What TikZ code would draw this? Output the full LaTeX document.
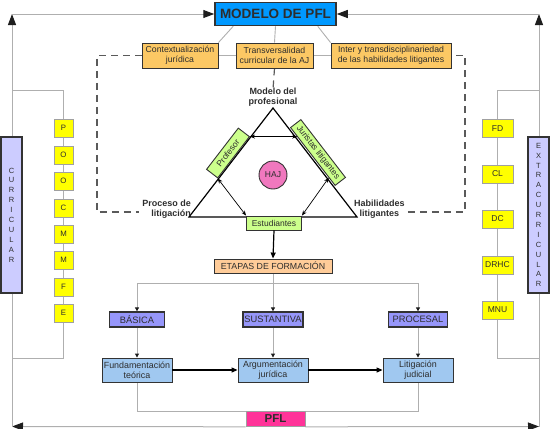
\documentclass[tikz,border=0pt]{standalone}
\usepackage{fontspec}
\setmainfont{Liberation Sans}
\usetikzlibrary{arrows.meta,calc,backgrounds}
\definecolor{bdr}{RGB}{51,51,51}
\definecolor{txt}{RGB}{45,45,45}
\definecolor{blueC}{RGB}{0,153,255}
\definecolor{orangeC}{RGB}{252,200,100}
\definecolor{greenC}{RGB}{204,255,140}
\definecolor{pinkC}{RGB}{240,120,190}
\definecolor{etapC}{RGB}{255,204,153}
\definecolor{purpleC}{RGB}{150,150,250}
\definecolor{lblueC}{RGB}{160,200,240}
\definecolor{pflC}{RGB}{255,51,153}
\definecolor{yellowC}{RGB}{255,255,0}
\definecolor{ybdr}{RGB}{160,160,160}
\definecolor{lavC}{RGB}{204,204,255}
\definecolor{lineG}{RGB}{175,175,175}
\definecolor{dashC}{RGB}{90,90,90}
\definecolor{tipC}{RGB}{30,30,30}
\begin{document}
\begin{tikzpicture}[x=1pt,y=-1pt,
  bx/.style={draw=bdr,line width=0.9pt,inner sep=0pt,align=center,text=txt,font=\fontsize{8.7}{9.7}\selectfont},
  orange/.style={bx,fill=orangeC,minimum height=25pt},
  greenbox/.style={bx,fill=greenC,minimum height=14pt,font=\fontsize{8.5}{9}\selectfont},
  purplebox/.style={bx,fill=purpleC,line width=1.3pt,minimum height=15pt,font=\fontsize{9.3}{10}\selectfont},
  lbluebox/.style={bx,fill=lblueC,minimum width=70pt,minimum height=24pt,font=\fontsize{8.9}{9.9}\selectfont},
  yel/.style={draw=ybdr,line width=0.6pt,fill=yellowC,inner sep=0pt,minimum height=18pt,text=txt,font=\fontsize{7.8}{8}\selectfont},
  vertbox/.style={bx,fill=lavC,line width=1.3pt,minimum width=21pt,minimum height=156pt,font=\fontsize{7.5}{9.9}\selectfont},
  glab/.style={font=\bfseries\fontsize{9}{10.3}\selectfont,text=txt,inner sep=0pt},
  outer/.style={draw=lineG,line width=1pt,-{Triangle[length=11pt,width=8pt,color=tipC]}},
  gl/.style={draw=lineG,line width=0.9pt},
  sm/.style={-{Triangle[length=4pt,width=4pt,color=tipC]}},
  tin/.style={draw=black,line width=0.7pt,{Stealth[length=5pt,width=4pt]}-{Stealth[length=5pt,width=4pt]}},
  blk/.style={draw=black,line width=1.2pt,-{Triangle[length=6pt,width=5pt]}},
  dsh/.style={draw=dashC,line width=1.2pt,dash pattern=on 7pt off 5pt}
]
\useasboundingbox (0,0) rectangle (550,429);

% coordinates
\coordinate (tl) at (12,14);
\coordinate (tr) at (539,14);
\coordinate (bl) at (12,426.5);
\coordinate (br) at (539,426.5);
\coordinate (lb1) at (12,90);
\coordinate (lb2) at (63.5,90);
\coordinate (lb3) at (63.5,358);
\coordinate (lb4) at (12,358);
\coordinate (rb1) at (539,90);
\coordinate (rb2) at (497.5,90);
\coordinate (rb3) at (497.5,358);
\coordinate (rb4) at (539,358);
\coordinate (dTL) at (97,55.5);
\coordinate (dBL) at (97,212);
\coordinate (dTR) at (465,55.5);
\coordinate (dBR) at (465,212);
\coordinate (A) at (273,108);
\coordinate (B) at (189,217);
\coordinate (C) at (357,217);
\coordinate (split) at (273,283);

% triangle
\draw[line width=1.2pt,black,line join=miter] (A) -- (B) -- (C) -- cycle;

% nodes
\node[bx,fill=blueC,line width=1.5pt,minimum width=121pt,minimum height=23pt,font=\bfseries\fontsize{13.5}{15}\selectfont] (modelo) at (275.5,14) {MODELO DE PFL};
\node[orange,minimum width=76pt] (ctx) at (180,55.5) {Contextualización\\jurídica};
\node[orange,minimum width=77pt] (trans) at (274.5,55.5) {Transversalidad\\curricular de la AJ};
\node[orange,minimum width=120pt] (inter) at (391,55.5) {Inter y transdisciplinariedad\\de las habilidades litigantes};

\node[glab,align=center] (mdp) at (273,97) {Modelo del\\profesional};
\node[glab,align=right,anchor=east] (proc) at (191,209) {Proceso de\\litigación};
\node[glab,align=center,anchor=west] (hab) at (354,209) {Habilidades\\litigantes};

\node[greenbox,rotate=52.4,minimum width=52pt] (prof) at (228,153) {Profesor};
\node[greenbox,rotate=-52.4,minimum width=73pt,minimum height=13pt] (jur) at (318,152.5) {Juristas litigantes};
\node[greenbox,minimum width=55pt] (est) at (274,223) {Estudiantes};
\node[circle,draw=bdr,line width=0.9pt,fill=pinkC,minimum size=28pt,inner sep=0pt,text=txt,font=\fontsize{8.5}{9}\selectfont] (haj) at (273,175) {HAJ};

\node[bx,fill=etapC,minimum width=118pt,minimum height=14pt,font=\fontsize{8.8}{9}\selectfont] (etapas) at (273,266) {ETAPAS DE FORMACIÓN};
\node[purplebox,minimum width=55pt] (bas) at (137,319.5) {BÁSICA};
\node[purplebox,minimum width=60pt] (sust) at (273,319.5) {SUSTANTIVA};
\node[purplebox,minimum width=59pt] (proces) at (418,319.5) {PROCESAL};
\node[lbluebox] (fund) at (137,370) {Fundamentación\\teórica};
\node[lbluebox] (arg) at (273,370) {Argumentación\\jurídica};
\node[lbluebox] (lit) at (418,370) {Litigación\\judicial};
\node[bx,fill=pflC,line width=0.6pt,draw=ybdr,minimum width=59pt,minimum height=15pt,font=\bfseries\fontsize{11.5}{12}\selectfont] (pfl) at (275.5,419) {PFL};

\node[vertbox] (curr) at (11.5,215) {C\\U\\R\\R\\I\\C\\U\\L\\A\\R};
\node[vertbox] (extra) at (538.5,215) {E\\X\\T\\R\\A\\C\\U\\R\\R\\I\\C\\U\\L\\A\\R};

\node[yel,minimum width=19pt] (y1) at (63.5,128) {P};
\node[yel,minimum width=19pt] (y2) at (63.5,155) {O};
\node[yel,minimum width=19pt] (y3) at (63.5,181) {O};
\node[yel,minimum width=19pt] (y4) at (63.5,208) {C};
\node[yel,minimum width=19pt] (y5) at (63.5,234) {M};
\node[yel,minimum width=19pt] (y6) at (63.5,260) {M};
\node[yel,minimum width=19pt] (y7) at (63.5,287) {F};
\node[yel,minimum width=19pt] (y8) at (63.5,313) {E};

\node[yel,minimum width=31pt,font=\fontsize{8.5}{9}\selectfont] (r1) at (497.5,128.5) {FD};
\node[yel,minimum width=31pt,font=\fontsize{8.5}{9}\selectfont] (r2) at (497.5,174) {CL};
\node[yel,minimum width=31pt,font=\fontsize{8.5}{9}\selectfont] (r3) at (497.5,219) {DC};
\node[yel,minimum width=31pt,font=\fontsize{8.5}{9}\selectfont] (r4) at (497.5,265) {DRHC};
\node[yel,minimum width=31pt,font=\fontsize{8.5}{9}\selectfont] (r5) at (497.5,310) {MNU};

\path (jur.south west) -- (jur.south east) coordinate[pos=0.16] (j1) coordinate[pos=0.86] (j2);

\begin{pgfonlayer}{background}
  % outer loop
  \draw[outer] (pfl.south west) -- (bl);
  \draw[outer] (pfl.south east) -- (br);
  \draw[outer] (bl) -- (tl);
  \draw[outer] (br) -- (tr);
  \draw[outer] (tl) -- (modelo.west);
  \draw[outer] (tr) -- (modelo.east);
  % brackets
  \draw[gl] (lb1) -- (lb2) -- (lb3) -- (lb4);
  \draw[gl] (rb1) -- (rb2) -- (rb3) -- (rb4);
  % top connectors
  \draw[gl] ([xshift=19pt]modelo.south west) -- (ctx.north east);
  \draw[gl] (modelo.south) -- (trans.north);
  \draw[gl] ([xshift=-19pt]modelo.south east) -- (inter.north west);
  \draw[gl] (ctx.east) -- (trans.west);
  \draw[gl] (trans.east) -- (inter.west);
  % dashed frame
  \draw[dsh] (ctx.west) -- (dTL) -- (dBL) -- ([xshift=-3pt]proc.west |- dBL);
  \draw[dsh] ([xshift=3pt]hab.east |- dBR) -- (dBR) -- (dTR) -- (inter.east);
  \draw[dsh] (trans.south) -- ([yshift=-2pt]mdp.north);
  % stage connectors
  \draw[gl] (etapas.south) -- (split);
  \draw[gl,sm] (split) -- (sust.north);
  \draw[gl,sm] (split) -| (bas.north);
  \draw[gl,sm] (split) -| (proces.north);
  \draw[gl,sm] (bas.south) -- (fund.north);
  \draw[gl,sm] (sust.south) -- (arg.north);
  \draw[gl,sm] (proces.south) -- (lit.north);
  \draw[gl] (fund.south) |- (pfl.north -| lit.south) -- (lit.south);
\end{pgfonlayer}

% inner arrows
\draw[tin] (prof.south east) -- (prof.south east -| j1);
\draw[tin] (prof.south west) -- (est.north west);
\draw[tin] (j2) -- (est.north east);
\draw[blk] (est.south) -- (etapas.north);
\draw[blk] (fund.east) -- (arg.west);
\draw[blk] (arg.east) -- (lit.west);
\end{tikzpicture}
\end{document}
